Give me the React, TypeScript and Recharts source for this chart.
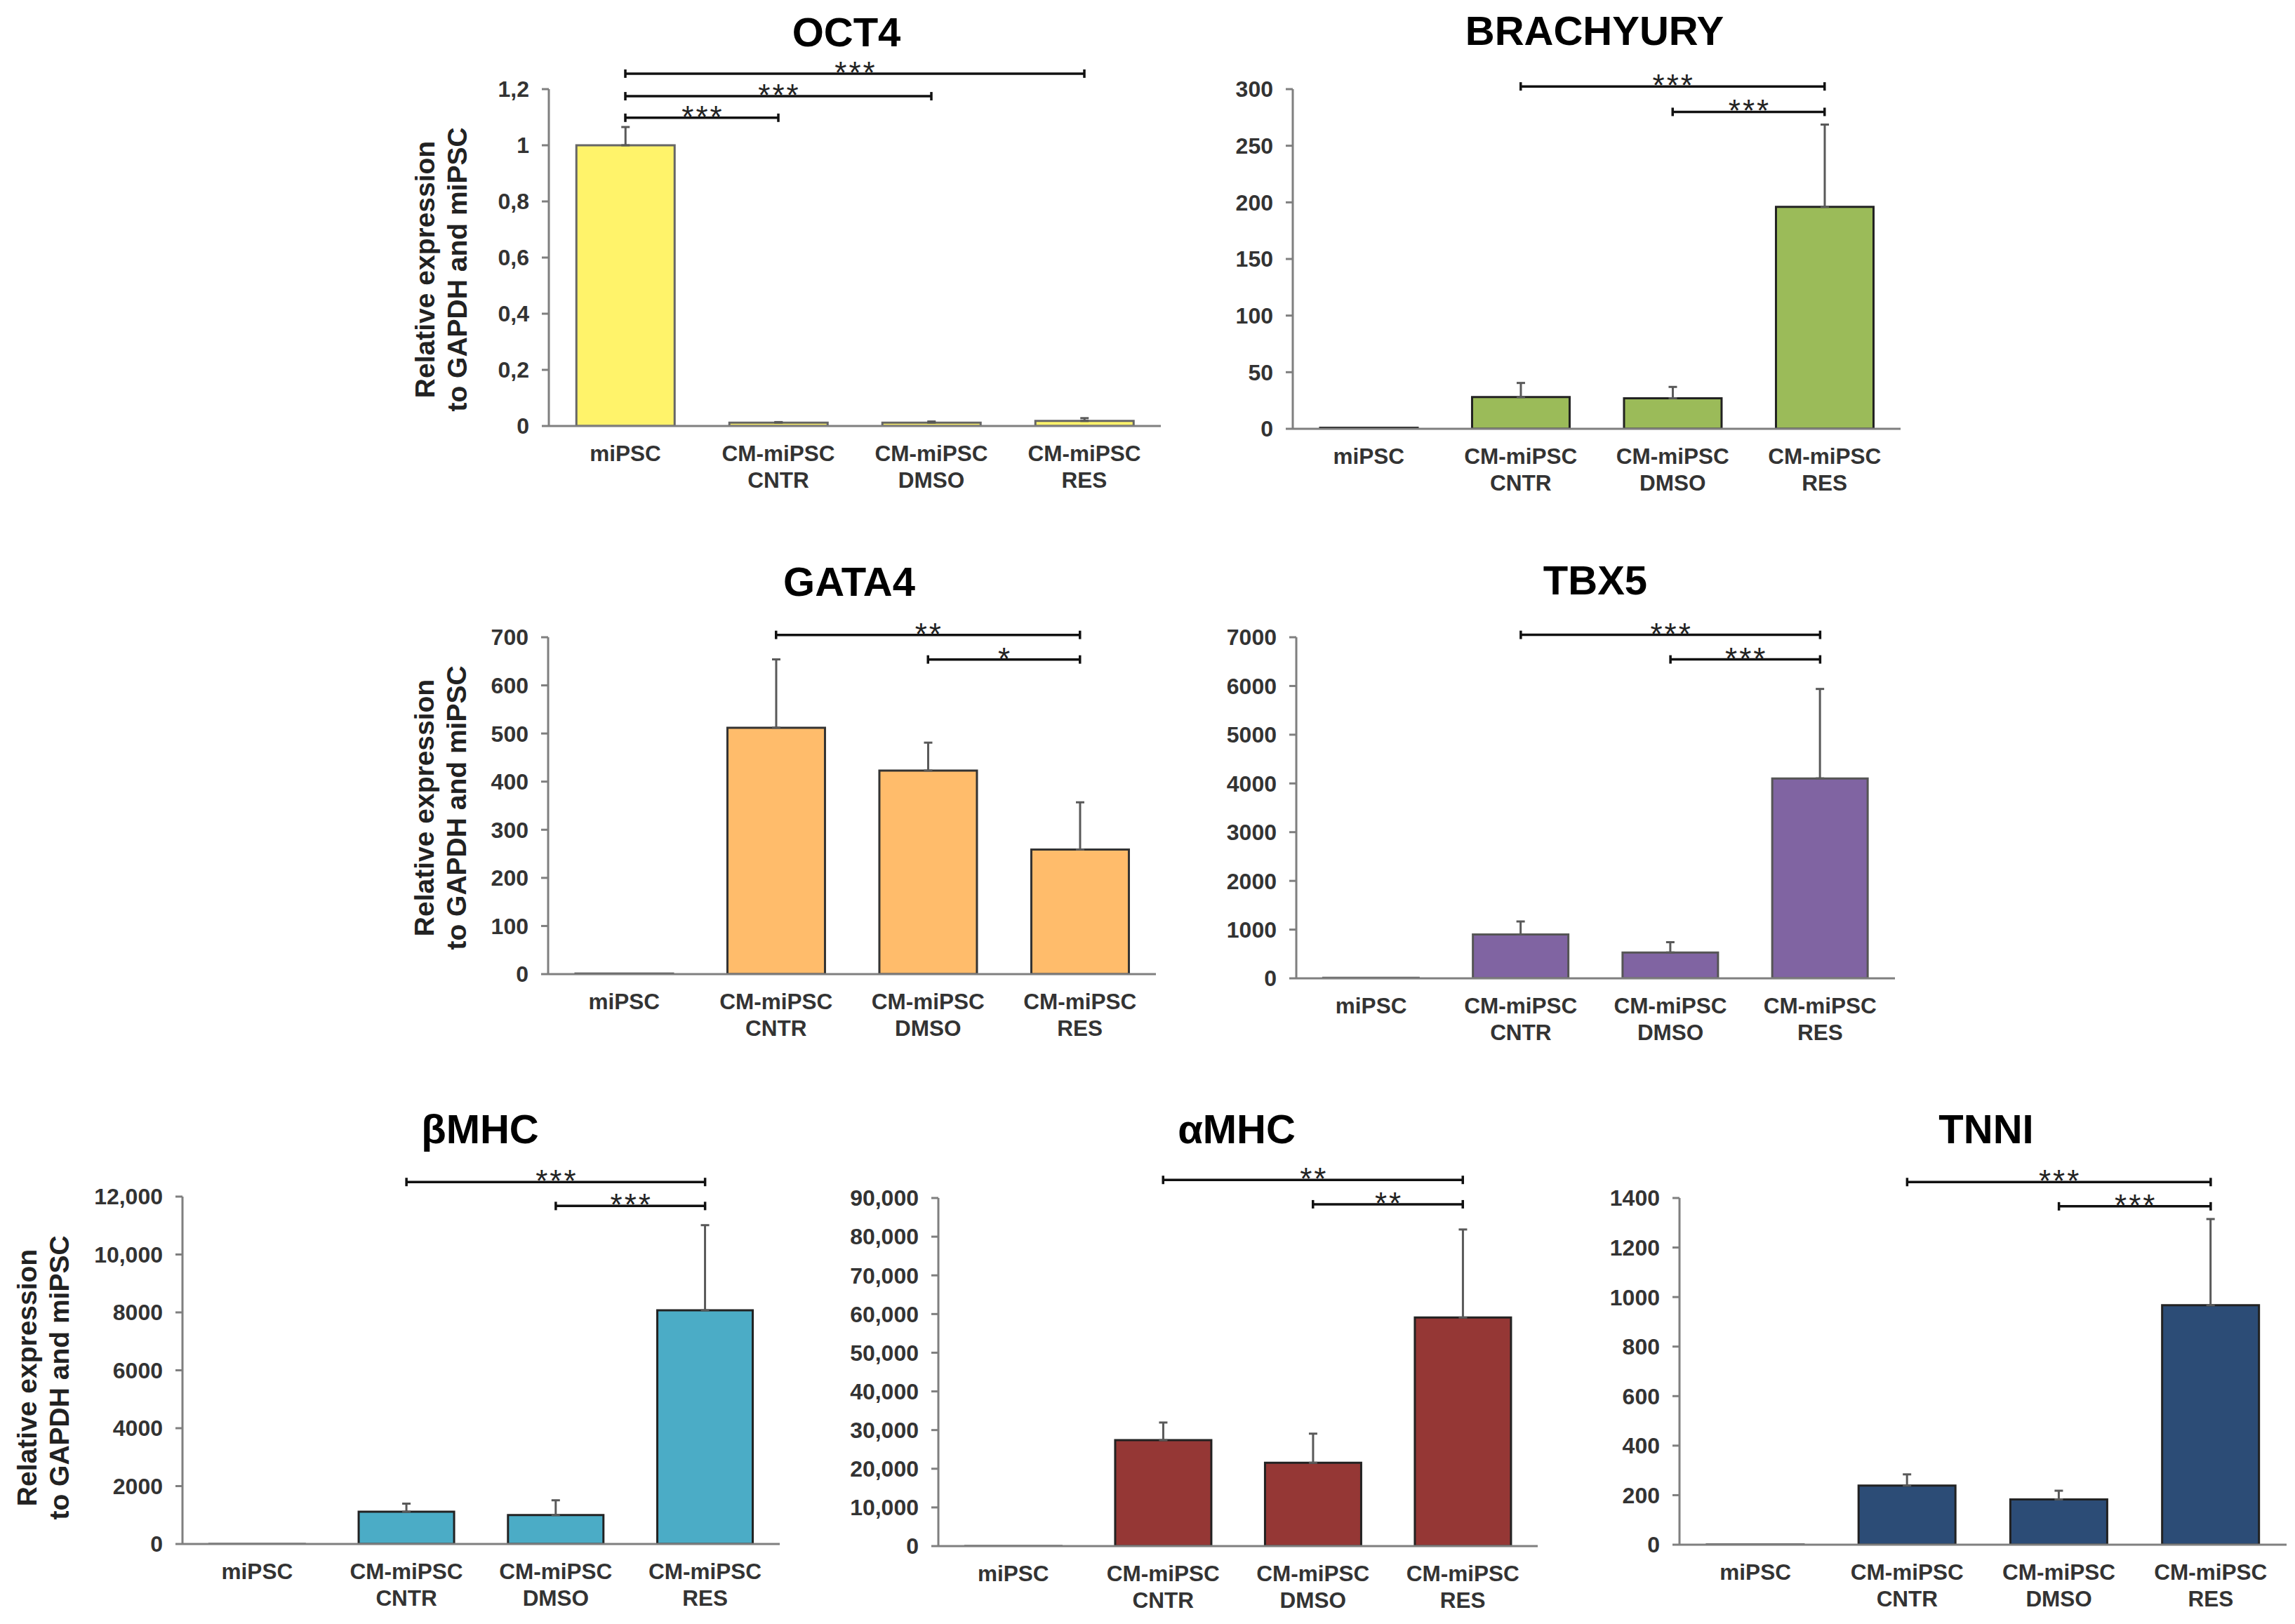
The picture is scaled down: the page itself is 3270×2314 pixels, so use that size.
import { BarChart, Bar, XAxis, YAxis, ErrorBar, ReferenceLine } from "recharts";

const FONT = '"Liberation Sans", Arial, Helvetica, sans-serif';

const groups = ["miPSC", "CM-miPSC CNTR", "CM-miPSC DMSO", "CM-miPSC RES"];

// mean relative expression (to GAPDH and miPSC) and SD, upper error only
const oct4Mean = [1, 0.012, 0.012, 0.018];
const oct4Err = [0.065, 0.002, 0.004, 0.01];
const brachyuryMean = [1, 28, 27, 196];
const brachyuryErr = [0, 12.5, 10, 72.7];
const gata4Mean = [1, 512, 423, 259];
const gata4Err = [0, 142, 58, 98];
const tbx5Mean = [10, 901, 530, 4103];
const tbx5Err = [0, 266, 212, 1836];
const bmhcMean = [1, 1115, 999, 8074];
const bmhcErr = [0, 279, 511, 2939];
const amhcMean = [1, 27400, 21540, 59100];
const amhcErr = [0, 4550, 7530, 22760];
const tnniMean = [1, 239, 183, 967];
const tnniErr = [0, 45, 35, 348];

// y ticks and the labels printed next to them
const oct4Ticks = [0, 0.2, 0.4, 0.6, 0.8, 1, 1.2];
const oct4TickLabels = ["0", "0,2", "0,4", "0,6", "0,8", "1", "1,2"];
const brachyuryTicks = [0, 50, 100, 150, 200, 250, 300];
const gata4Ticks = [0, 100, 200, 300, 400, 500, 600, 700];
const tbx5Ticks = [0, 1000, 2000, 3000, 4000, 5000, 6000, 7000];
const bmhcTicks = [0, 2000, 4000, 6000, 8000, 10000, 12000];
const bmhcTickLabels = ["0", "2000", "4000", "6000", "8000", "10,000", "12,000"];
const amhcTicks = [0, 10000, 20000, 30000, 40000, 50000, 60000, 70000, 80000, 90000];
const amhcTickLabels = ["0", "10,000", "20,000", "30,000", "40,000", "50,000", "60,000", "70,000", "80,000", "90,000"];
const tnniTicks = [0, 200, 400, 600, 800, 1000, 1200, 1400];

// significance comparisons, top bracket first
type Sig = [string, string, string];
const oct4Sig: Sig[] = [
  ["miPSC", "CM-miPSC RES", "***"],
  ["miPSC", "CM-miPSC DMSO", "***"],
  ["miPSC", "CM-miPSC CNTR", "***"],
];
const brachyurySig: Sig[] = [
  ["CM-miPSC CNTR", "CM-miPSC RES", "***"],
  ["CM-miPSC DMSO", "CM-miPSC RES", "***"],
];
const gata4Sig: Sig[] = [
  ["CM-miPSC CNTR", "CM-miPSC RES", "**"],
  ["CM-miPSC DMSO", "CM-miPSC RES", "*"],
];
const tbx5Sig: Sig[] = [
  ["CM-miPSC CNTR", "CM-miPSC RES", "***"],
  ["CM-miPSC DMSO", "CM-miPSC RES", "***"],
];
const bmhcSig: Sig[] = [
  ["CM-miPSC CNTR", "CM-miPSC RES", "***"],
  ["CM-miPSC DMSO", "CM-miPSC RES", "***"],
];
const amhcSig: Sig[] = [
  ["CM-miPSC CNTR", "CM-miPSC RES", "**"],
  ["CM-miPSC DMSO", "CM-miPSC RES", "**"],
];
const tnniSig: Sig[] = [
  ["CM-miPSC CNTR", "CM-miPSC RES", "***"],
  ["CM-miPSC DMSO", "CM-miPSC RES", "***"],
];

type Panel = {
  title: string;
  mean: number[];
  err: number[];
  ticks: number[];
  tickLabels?: string[];
  sig: Sig[];
  fill: string;
  edge: string;
  // plot box in page pixels
  left: number;
  top: number;
  right: number;
  bottom: number;
  titleX: number;
  titleY: number;
  // bracket heights as a fraction of the axis maximum
  levels: number[];
  yLabel?: { x: number; y: number };
};

const panels: Panel[] = [
  {
    title: "OCT4", mean: oct4Mean, err: oct4Err, ticks: oct4Ticks, tickLabels: oct4TickLabels, sig: oct4Sig,
    fill: "#FFF36A", edge: "#666666",
    left: 782, top: 127, right: 1654, bottom: 607, titleX: 1206, titleY: 66,
    levels: [1.046, 0.979, 0.915], yLabel: { x: 605, y: 384 },
  },
  {
    title: "BRACHYURY", mean: brachyuryMean, err: brachyuryErr, ticks: brachyuryTicks, sig: brachyurySig,
    fill: "#9BBB59", edge: "#222222",
    left: 1842, top: 127, right: 2708, bottom: 611, titleX: 2272, titleY: 64,
    levels: [1.008, 0.933],
  },
  {
    title: "GATA4", mean: gata4Mean, err: gata4Err, ticks: gata4Ticks, sig: gata4Sig,
    fill: "#FFBC6B", edge: "#333333",
    left: 781, top: 908, right: 1647, bottom: 1388, titleX: 1210, titleY: 849,
    levels: [1.007, 0.934], yLabel: { x: 604, y: 1151 },
  },
  {
    title: "TBX5", mean: tbx5Mean, err: tbx5Err, ticks: tbx5Ticks, sig: tbx5Sig,
    fill: "#8064A2", edge: "#555555",
    left: 1847, top: 908, right: 2700, bottom: 1394, titleX: 2273, titleY: 847,
    levels: [1.007, 0.935],
  },
  {
    title: "βMHC", mean: bmhcMean, err: bmhcErr, ticks: bmhcTicks, tickLabels: bmhcTickLabels, sig: bmhcSig,
    fill: "#4BACC6", edge: "#222222",
    left: 260, top: 1705, right: 1111, bottom: 2200, titleX: 684, titleY: 1629,
    levels: [1.042, 0.973], yLabel: { x: 38, y: 1963 },
  },
  {
    title: "αMHC", mean: amhcMean, err: amhcErr, ticks: amhcTicks, tickLabels: amhcTickLabels, sig: amhcSig,
    fill: "#953735", edge: "#222222",
    left: 1337, top: 1707, right: 2191, bottom: 2203, titleX: 1762, titleY: 1629,
    levels: [1.052, 0.982],
  },
  {
    title: "TNNI", mean: tnniMean, err: tnniErr, ticks: tnniTicks, sig: tnniSig,
    fill: "#2C4C76", edge: "#222222",
    left: 2393, top: 1707, right: 3258, bottom: 2201, titleX: 2830, titleY: 1629,
    levels: [1.046, 0.976],
  },
];

const AXIS_W = 200;
const TOP = 130;
const RIGHT = 20;
const X_H = 110;
const AXIS_GREY = "#7f7f7f";

function GroupTick(props: any) {
  const { x, y, payload } = props;
  const lines = String(payload.value).split(" ");
  return (
    <text x={x} y={y} textAnchor="middle" fontFamily={FONT} fontSize={31.5} fontWeight={700} fill="#333">
      {lines.map((t, i) => (
        <tspan key={i} x={x} y={y + 50 + i * 38}>
          {t}
        </tspan>
      ))}
    </text>
  );
}

// significance bracket: line with end caps and stars above
const bracket = (stars: string) => (props: any) => {
  const { x1, y1, x2, y2 } = props;
  return (
    <g>
      <line x1={x1} y1={y1} x2={x2} y2={y2} stroke="#111" strokeWidth={3.5} />
      <line x1={x1} y1={y1 - 6} x2={x1} y2={y1 + 6} stroke="#111" strokeWidth={3.5} />
      <line x1={x2} y1={y2 - 6} x2={x2} y2={y2 + 6} stroke="#111" strokeWidth={3.5} />
      <text
        x={(x1 + x2) / 2 + 1.5}
        y={y1 + 14}
        textAnchor="middle"
        fontFamily={FONT}
        fontSize={44}
        letterSpacing={3}
        fill="#222"
      >
        {stars}
      </text>
    </g>
  );
};

function GeneChart({ p }: { p: Panel }) {
  const data = groups.map((g, i) => ({
    group: g,
    value: p.mean[i],
    sd: p.err[i] > 0 ? [0, p.err[i]] : null,
  }));
  const max = p.ticks[p.ticks.length - 1];
  const w = p.right - p.left;
  const h = p.bottom - p.top;
  const fmt = (v: number) => {
    const i = p.ticks.indexOf(v);
    return p.tickLabels && i >= 0 ? p.tickLabels[i] : String(v);
  };
  return (
    <div style={{ position: "absolute", left: p.left - AXIS_W, top: p.top - TOP }}>
      <BarChart
        width={w + AXIS_W + RIGHT}
        height={h + TOP + X_H}
        data={data}
        margin={{ top: TOP, right: RIGHT, bottom: 0, left: 0 }}
        barCategoryGap="18%"
      >
        <XAxis
          dataKey="group"
          interval={0}
          height={X_H}
          tickLine={false}
          tickSize={0}
          tickMargin={0}
          axisLine={{ stroke: AXIS_GREY, strokeWidth: 3 }}
          tick={<GroupTick />}
        />
        <YAxis
          width={AXIS_W}
          domain={[0, max]}
          allowDataOverflow
          ticks={p.ticks}
          interval={0}
          tickFormatter={fmt}
          tickSize={10}
          tickMargin={18}
          axisLine={{ stroke: AXIS_GREY, strokeWidth: 3 }}
          tickLine={{ stroke: AXIS_GREY, strokeWidth: 3 }}
          tick={{ fontSize: 32, fontWeight: 700, fill: "#333", fontFamily: FONT }}
        />
        <Bar dataKey="value" fill={p.fill} stroke={p.edge} strokeWidth={3} isAnimationActive={false}>
          <ErrorBar dataKey="sd" width={6} stroke="#595959" strokeWidth={3} direction="y" />
        </Bar>
        {p.sig.map(([a, b, stars], i) => (
          <ReferenceLine
            key={i}
            segment={[
              { x: a, y: max * p.levels[i] },
              { x: b, y: max * p.levels[i] },
            ]}
            ifOverflow="visible"
            shape={bracket(stars)}
          />
        ))}
      </BarChart>
    </div>
  );
}

export default function App() {
  return (
    <div style={{ position: "relative", width: 3270, height: 2314, margin: -8, background: "#fff", overflow: "hidden" }}>
      {panels.map((p) => (
        <GeneChart key={p.title} p={p} />
      ))}
      <svg width={3270} height={2314} style={{ position: "absolute", left: 0, top: 0, pointerEvents: "none" }}>
        {panels.map((p) => (
          <text key={p.title} x={p.titleX} y={p.titleY} textAnchor="middle" fontFamily={FONT} fontSize={58} fontWeight={700} fill="#000">
            {p.title}
          </text>
        ))}
        {panels
          .filter((p) => p.yLabel)
          .map((p) => (
            <text
              key={p.title + "-y"}
              transform={`translate(${p.yLabel!.x},${p.yLabel!.y}) rotate(-90)`}
              textAnchor="middle"
              fontFamily={FONT}
              fontSize={39}
              fontWeight={700}
              fill="#222"
            >
              <tspan x={0} y={14}>Relative expression</tspan>
              <tspan x={0} y={60}>to GAPDH and miPSC</tspan>
            </text>
          ))}
      </svg>
    </div>
  );
}
